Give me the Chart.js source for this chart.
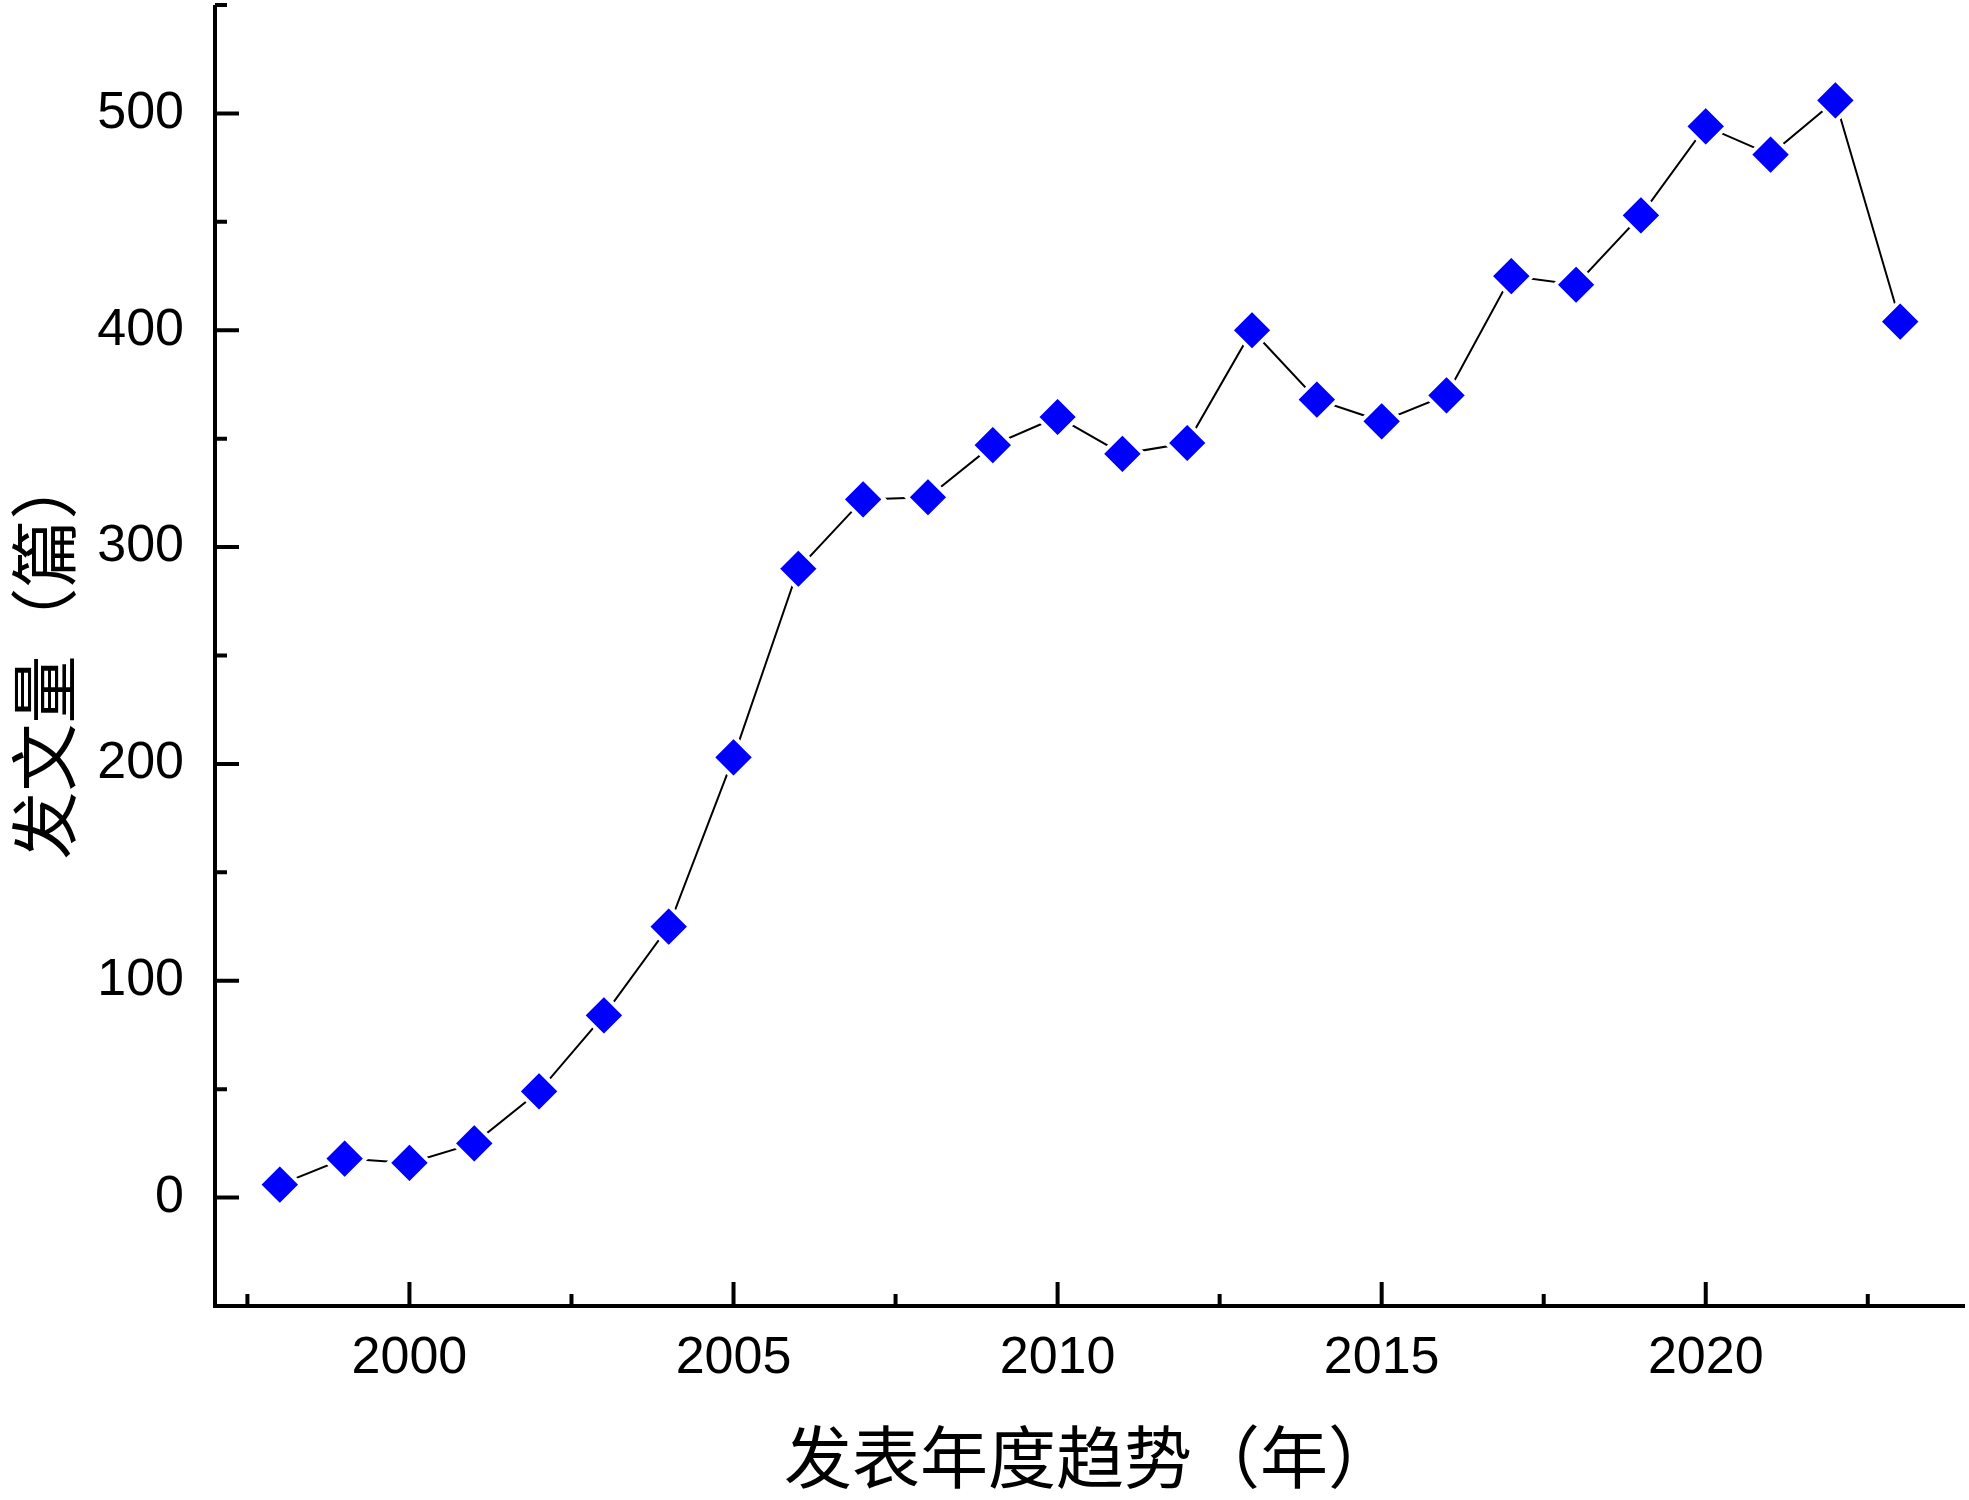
<!DOCTYPE html>
<html>
<head>
<meta charset="utf-8">
<script src="https://cdn.jsdelivr.net/npm/chart.js@4"></script>
<style>
  html, body { margin: 0; padding: 0; background: #ffffff; }
  #wrap { width: 1969px; height: 1500px; }
</style>
</head>
<body>
<div id="wrap"><canvas id="c" width="1969" height="1500"></canvas></div>
<script>
// ---- data ----
const years = [1998, 1999, 2000, 2001, 2002, 2003, 2004, 2005, 2006, 2007, 2008, 2009, 2010,
               2011, 2012, 2013, 2014, 2015, 2016, 2017, 2018, 2019, 2020, 2021, 2022, 2023];
const counts = [6, 18, 16, 25, 49, 84, 125, 203, 290, 322, 323, 347, 360,
                343, 348, 400, 368, 358, 370, 425, 421, 453, 494, 481, 506, 404];
const xMajorTicks = [2000, 2005, 2010, 2015, 2020];
const xMinorTicks = [1997.5, 2002.5, 2007.5, 2012.5, 2017.5, 2022.5];
const yMajorTicks = [0, 100, 200, 300, 400, 500];
const yMinorTicks = [50, 150, 250, 350, 450, 550];
const xTitle = '发表年度趋势（年）';
const yTitle = '发文量（篇）';

const points = years.map((y, i) => ({ x: y, y: counts[i] }));

const axesPlugin = {
  id: 'originAxes',
  afterDraw(chart) {
    const ctx = chart.ctx;
    const ca = chart.chartArea;
    const xs = chart.scales.x, ys = chart.scales.y;
    ctx.save();
    ctx.strokeStyle = '#000';
    ctx.lineCap = 'butt';
    // axis lines
    ctx.lineWidth = 4;
    ctx.beginPath();
    ctx.moveTo(ca.left, ca.top);
    ctx.lineTo(ca.left, ca.bottom + 2);
    ctx.moveTo(ca.left - 2, ca.bottom);
    ctx.lineTo(ca.right, ca.bottom);
    ctx.stroke();
    // ticks (inward)
    ctx.lineWidth = 4;
    ctx.beginPath();
    xMajorTicks.forEach(v => { const p = xs.getPixelForValue(v); ctx.moveTo(p, ca.bottom); ctx.lineTo(p, ca.bottom - 24); });
    xMinorTicks.forEach(v => { const p = xs.getPixelForValue(v); ctx.moveTo(p, ca.bottom); ctx.lineTo(p, ca.bottom - 12); });
    yMajorTicks.forEach(v => { const p = ys.getPixelForValue(v); ctx.moveTo(ca.left, p); ctx.lineTo(ca.left + 24, p); });
    yMinorTicks.forEach(v => { const p = ys.getPixelForValue(v); ctx.moveTo(ca.left, p); ctx.lineTo(ca.left + 12, p); });
    ctx.stroke();
    ctx.restore();
  }
};

function zeroPad(scale) {
  scale.paddingTop = 0; scale.paddingBottom = 0; scale.paddingLeft = 0; scale.paddingRight = 0;
}

new Chart(document.getElementById('c'), {
  type: 'line',
  data: {
    datasets: [{
      data: points,
      borderColor: '#000000',
      borderWidth: 2,
      tension: 0,
      pointStyle: 'rectRot',
      pointRadius: 21,
      pointHoverRadius: 21,
      pointBackgroundColor: '#0000FF',
      pointBorderColor: '#FFFFFF',
      pointBorderWidth: 4,
      clip: false
    }]
  },
  options: {
    responsive: false,
    devicePixelRatio: 1,
    animation: false,
    layout: { autoPadding: false, padding: { top: 5, right: 4, left: 0, bottom: 0 } },
    plugins: { legend: { display: false }, tooltip: { enabled: false } },
    scales: {
      x: {
        type: 'linear',
        min: 1997,
        max: 2024,
        grid: { display: false, drawTicks: false },
        border: { display: false },
        afterBuildTicks(scale) { scale.ticks = xMajorTicks.map(v => ({ value: v })); },
        afterFit(scale) { scale.height = 194; zeroPad(scale); },
        ticks: {
          autoSkip: false, maxRotation: 0, minRotation: 0,
          padding: 21,
          color: '#000',
          font: { family: '"Liberation Sans", Arial, sans-serif', size: 52 },
          callback: v => String(v)
        },
        title: {
          display: true,
          text: xTitle,
          color: '#000',
          font: { family: '"Noto Sans CJK SC", sans-serif', size: 68, weight: 'normal' },
          padding: { top: 0, bottom: 2 }
        }
      },
      y: {
        type: 'linear',
        min: -50,
        max: 550,
        grid: { display: false, drawTicks: false },
        border: { display: false },
        afterBuildTicks(scale) { scale.ticks = yMajorTicks.map(v => ({ value: v })); },
        afterFit(scale) { scale.width = 215; zeroPad(scale); },
        ticks: {
          padding: 31,
          color: '#000',
          font: { family: '"Liberation Sans", Arial, sans-serif', size: 52 },
          callback: v => String(v)
        },
        title: {
          display: true,
          text: yTitle,
          color: '#000',
          font: { family: '"Noto Sans CJK SC", sans-serif', size: 68, weight: 'normal' },
          padding: { top: 3, bottom: 0 }
        }
      }
    }
  },
  plugins: [axesPlugin]
});
</script>
</body>
</html>
